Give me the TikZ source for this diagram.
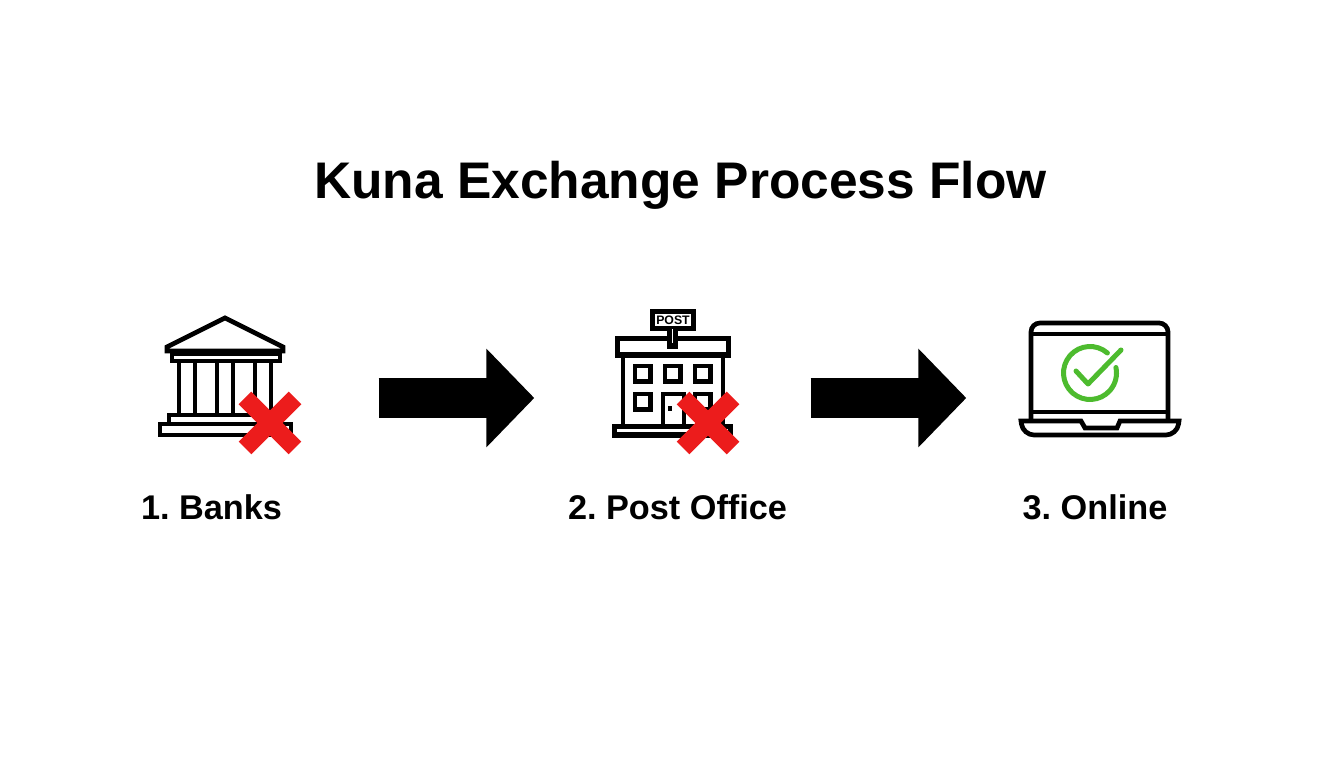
\documentclass[tikz,border=0pt]{standalone}
\usepackage{fontspec}
\setmainfont{Liberation Sans}
\usepackage{xcolor}
\usetikzlibrary{arrows.meta,positioning}
\definecolor{crossred}{HTML}{EC1C1C}
\definecolor{okgreen}{HTML}{4DBB2E}

\begin{document}
\frenchspacing
\begin{tikzpicture}[
  x=0.1mm, y=-0.1mm,
  icon/.style={minimum height=14mm, inner sep=0pt},
  ink/.style={line width=0.47mm, line join=miter},
  heavyink/.style={line width=0.55mm, line join=miter},
  title/.style={anchor=base, font=\fontsize{14.65}{18}\selectfont\bfseries},
  lbl/.style={anchor=base, font=\fontsize{9.75}{12}\selectfont\bfseries},
  arrow/.style={-{Triangle[length=4.8mm, width=9.6mm]}, line width=4mm},
  crossbar/.style={line width=1.8mm, crossred},
  okline/.style={line width=0.5mm, okgreen, line cap=round, line join=round}
]
\useasboundingbox (0,0) rectangle (1344,768);

\node[title] (head) at (680.5,199) {Kuna Exchange Process Flow};

% Icon places
\node[icon, minimum width=14.5mm] (banks) at (230.5,398) {};
\node[icon, minimum width=12.8mm] (post) at (676,398) {};
\node[icon, minimum width=16.3mm] (online) at (1099.5,398) {};

\draw[arrow, shorten <=7.5mm, shorten >=7.7mm] (banks.east) -- (post.west);
\draw[arrow, shorten <=7mm, shorten >=5.1mm] (post.east) -- (online.west);

% Bank
\draw[ink] (225,318) -- (167,347) -- (167,351) -- (283,351) -- (283,347) -- cycle;
\draw[ink] (172,354) rectangle (280,361);
\foreach \colx in {179,195,217,233,255,271}
  \draw[ink] (\colx,361) -- (\colx,415);
\draw[ink] (169,415) rectangle (280,424);
\draw[ink, fill=white] (160,424) rectangle (291,435);
\draw[crossbar] (245,398) -- (295,448);
\draw[crossbar] (295,398) -- (245,448);

% Post office
\draw[ink] (623,355) -- (623,426);
\draw[ink] (723,355) -- (723,426);
\draw[heavyink] (617.5,338.5) rectangle (728.5,355);
\draw[heavyink, fill=white] (652.5,311.5) rectangle (693.5,328.5);
\node[font=\fontsize{3.5}{4}\selectfont\bfseries, inner sep=0pt] (sign) at (673,320) {POST};
\draw[heavyink, fill=white] (669.5,329) -- (669.5,346) -- (675.5,346) -- (675.5,329);
\foreach \winx/\winy in {635/366,665/366,695/366,635/394,695/394}
  \draw[ink] (\winx,\winy) rectangle ++(15.5,15.5);
\draw[ink] (663,426) -- (663,394) -- (684,394) -- (684,426);
\fill (668,406) rectangle (672,411);
\draw[heavyink, fill=white] (614.5,426.5) rectangle (730.5,435);
\draw[crossbar] (683,398) -- (733,448);
\draw[crossbar] (733,398) -- (683,448);

% Laptop
\draw[ink, rounded corners=0.9mm] (1031,421) -- (1031,323) -- (1168,323) -- (1168,421);
\draw[ink] (1031,334) -- (1168,334);
\draw[ink] (1031,412) -- (1168,412);
\draw[ink] (1021,421) -- (1081,421) -- (1085,428) -- (1117,428) -- (1120,421) -- (1179,421)
  [rounded corners=1.1mm] -- (1177,435) -- (1023,435) [sharp corners] -- cycle;
\draw[okline] (1090,373) ++(49:2.65mm) arc[start angle=49, end angle=372, radius=2.65mm];
\draw[okline] (1076,371) -- (1088,384) -- (1121,350);

% Labels
\node[lbl] (lbanks) at (211.5,520) {1. Banks};
\node[lbl] (lpost) at (677.5,520) {2. Post Office};
\node[lbl] (lonline) at (1095,520) {3. Online};

\end{tikzpicture}
\end{document}
